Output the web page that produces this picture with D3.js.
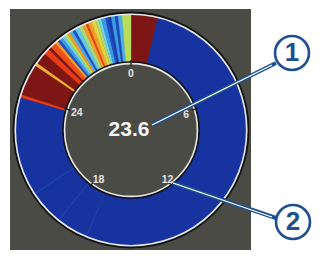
<!DOCTYPE html>
<html><head><meta charset="utf-8">
<script src="https://cdn.jsdelivr.net/npm/d3@7"></script>
<style>html,body{margin:0;padding:0;background:#fff;}svg{display:block;}</style>
</head><body>
<svg id="c" width="324" height="257"></svg>
<script>
// Segment edges in units of the 0–30 dial, and a level 0..1 per segment (mapped to a jet-like colour ramp)
const segEdges = [0, 1.125, 16.875, 16.93, 18.21, 18.27, 19.69, 19.75, 23.875, 24.0, 25.33, 25.46, 25.96, 26.21, 26.33, 26.58,
  26.71, 26.83, 26.96, 27.08, 27.21, 27.33, 27.46, 27.58, 27.75, 27.92, 28.08, 28.17, 28.33, 28.5, 28.63, 28.75, 28.92, 29.04,
  29.17, 29.33, 29.46, 29.63, 30];
const segLevel = [1.0, 0.0, 0.08, 0.0, 0.08, 0.0, 0.08, 0.0, 0.9, 1.0, 0.78, 1.0, 0.9, 1.0, 0.88, 0.8,
  0.15, 0.3, 0.45, 0.62, 0.8, 0.35, 0.15, 0.42, 0.56, 0.8, 0.9, 0.8, 0.7, 0.58, 0.45, 0.3,
  0.15, 0.05, 0.3, 0.12, 0.35, 0.6];
const tickValues = [0, 6, 12, 18, 24];
const tickLabels = ["0", "6", "12", "18", "24"];
const centerValue = "23.6";
const callouts = ["1", "2"];

const svg = d3.select("#c");
const cx = 131, cy = 130, rIn = 68, rOut = 117;
const ang = d3.scaleLinear().domain([0, 30]).range([0, 2 * Math.PI]);
const color = d3.scaleLinear()
  .domain([0, 0.15, 0.3, 0.45, 0.6, 0.75, 0.9, 1])
  .range(["#1633a0", "#1f4fc8", "#3a9be6", "#6fd3e6", "#b9dc5c", "#f7cf32", "#ee3a12", "#7e1616"]);

svg.append("rect").attr("x", 10).attr("y", 9).attr("width", 241).attr("height", 241).attr("fill", "#4b4b46");

const g = svg.append("g").attr("transform", `translate(${cx},${cy})`);
const segs = segLevel.map((v, i) => ({ s: segEdges[i], e: segEdges[i + 1], v }));
const arc = d3.arc().innerRadius(rIn).outerRadius(rOut - 1)
  .startAngle(d => ang(d.s)).endAngle(d => ang(d.e));
g.selectAll("path.seg").data(segs).join("path").attr("class", "seg")
  .attr("d", arc).attr("fill", d => color(d.v)).attr("stroke", d => color(d.v)).attr("stroke-width", 0.3);

// outer borders
g.append("circle").attr("r", rOut + 0.5).attr("fill", "none").attr("stroke", "#111").attr("stroke-width", 1.8);
g.append("circle").attr("r", rOut - 1.3).attr("fill", "none").attr("stroke", "#e6e6e6").attr("stroke-width", 1.6);
// inner disc
g.append("circle").attr("r", rIn).attr("fill", "#4b4b46").attr("stroke", "#111").attr("stroke-width", 1.6);
g.append("circle").attr("r", rIn - 1.6).attr("fill", "none").attr("stroke", "#e6e6e6").attr("stroke-width", 1.6);

// ticks and labels
g.selectAll("line.tk").data(tickValues).join("line").attr("class", "tk")
  .attr("x1", d => Math.sin(ang(d)) * (rIn - 4)).attr("y1", d => -Math.cos(ang(d)) * (rIn - 4))
  .attr("x2", d => Math.sin(ang(d)) * (rIn + 2)).attr("y2", d => -Math.cos(ang(d)) * (rIn + 2))
  .attr("stroke", "#1a1a1a").attr("stroke-width", 1.3);
g.selectAll("text.lb").data(tickValues).join("text").attr("class", "lb")
  .attr("x", (d, i) => Math.sin(ang(d)) * 57 + (i === 2 ? 3 : i === 3 ? 1 : i === 1 ? 1 : 0))
  .attr("y", (d, i) => -Math.cos(ang(d)) * 57 + 1 + (i >= 2 && i <= 3 ? 3 : i === 1 ? 1.5 : 0))
  .attr("text-anchor", "middle").attr("dominant-baseline", "middle")
  .attr("font-family", "Liberation Sans, Arial, sans-serif").attr("font-weight", "bold")
  .attr("font-size", 10.5).attr("fill", "#e4e4e4").text((d, i) => tickLabels[i]);

g.append("text").attr("x", -2).attr("y", 0).attr("text-anchor", "middle").attr("dominant-baseline", "middle")
  .attr("font-family", "Liberation Sans, Arial, sans-serif").attr("font-weight", "bold")
  .attr("font-size", 21).attr("fill", "#f4f4f4").text(centerValue);

// callouts
const leaders = [[[152, 125], [276, 63]], [[173, 183], [276, 218]]];
const centers = [[292, 53], [293, 222]];
leaders.forEach(l => {
  svg.append("line").attr("x1", l[0][0]).attr("y1", l[0][1]).attr("x2", l[1][0]).attr("y2", l[1][1])
    .attr("stroke", "#1d4f91").attr("stroke-width", 4);
  svg.append("line").attr("x1", l[0][0]).attr("y1", l[0][1]).attr("x2", l[1][0] - 4).attr("y2", l[1][1] + (l[1][1] < l[0][1] ? 2 : -1))
    .attr("stroke", "#ffffff").attr("stroke-width", 1.3);
});
centers.forEach((c, i) => {
  svg.append("circle").attr("cx", c[0]).attr("cy", c[1]).attr("r", 17)
    .attr("fill", "#fff").attr("stroke", "#1d4f91").attr("stroke-width", 2.6);
  svg.append("text").attr("x", c[0]).attr("y", c[1] + 1).attr("text-anchor", "middle").attr("dominant-baseline", "middle")
    .attr("font-family", "Liberation Sans, Arial, sans-serif").attr("font-weight", "bold")
    .attr("font-size", 26).attr("fill", "#1d4f91").text(callouts[i]);
});
</script>
</body></html>
